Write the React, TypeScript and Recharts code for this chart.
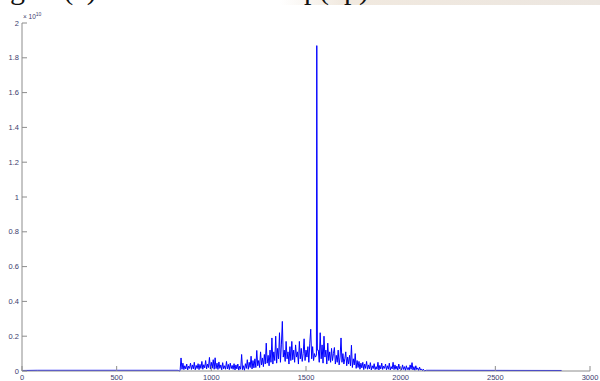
import { Line, LineChart, XAxis, YAxis } from 'recharts';

// spectrum magnitude, units of 1e10
const sampleStart = 830;
const sampleStep = 5;

const noiseRows: number[][] = [
  [0, 0.002, 0.075, 0.01, 0.045, 0.008, 0.03, 0.012, 0.04, 0.006, 0.028, 0.015, 0.045, 0.009, 0.035, 0.012, 0.05, 0.007, 0.032, 0.014],
  [0.042, 0.008, 0.038, 0.015, 0.055, 0.01, 0.036, 0.018, 0.06, 0.012, 0.04, 0.02, 0.078, 0.011, 0.05, 0.016, 0.065, 0.01, 0.076, 0.014],
  [0.045, 0.009, 0.052, 0.015, 0.035, 0.007, 0.048, 0.013, 0.03, 0.01, 0.055, 0.012, 0.038, 0.008, 0.045, 0.014, 0.032, 0.01, 0.042, 0.006],
  [0.035, 0.012, 0.04, 0.005, 0.028, 0.01, 0.095, 0.008, 0.03, 0.004, 0.042, 0.015, 0.065, 0.01, 0.05, 0.02, 0.085, 0.012, 0.06, 0.018],
  [0.07, 0.02, 0.118, 0.03, 0.06, 0.02, 0.11, 0.035, 0.075, 0.025, 0.095, 0.04, 0.16, 0.045, 0.09, 0.03, 0.12, 0.05, 0.19, 0.04],
  [0.11, 0.06, 0.2, 0.045, 0.13, 0.07, 0.22, 0.05, 0.15, 0.285, 0.08, 0.12, 0.055, 0.17, 0.07, 0.11, 0.04, 0.14, 0.06, 0.17],
  [0.065, 0.12, 0.05, 0.15, 0.08, 0.11, 0.04, 0.17, 0.07, 0.13, 0.055, 0.1, 0.185, 0.06, 0.12, 0.08, 0.14, 0.05, 0.16, 0.24],
  [0.07, 0.14, 0.06, 0.1, 0.08, 0.09, 0.12, 0.12, 0.05, 0.22, 0.07, 0.15, 0.045, 0.2, 0.08, 0.12, 0.04, 0.16, 0.06, 0.11],
  [0.05, 0.13, 0.06, 0.1, 0.135, 0.04, 0.09, 0.05, 0.12, 0.035, 0.08, 0.19, 0.05, 0.1, 0.04, 0.07, 0.11, 0.03, 0.08, 0.04],
  [0.09, 0.03, 0.148, 0.02, 0.07, 0.035, 0.1, 0.015, 0.06, 0.02, 0.055, 0.01, 0.045, 0.018, 0.05, 0.008, 0.04, 0.015, 0.055, 0.01],
  [0.035, 0.012, 0.048, 0.006, 0.03, 0.014, 0.042, 0.008, 0.025, 0.01, 0.05, 0.006, 0.032, 0.012, 0.045, 0.009, 0.028, 0.015, 0.04, 0.007],
  [0.03, 0.01, 0.045, 0.006, 0.025, 0.012, 0.05, 0.008, 0.035, 0.01, 0.028, 0.005, 0.04, 0.012, 0.022, 0.006, 0.035, 0.009, 0.025, 0.004],
  [0.03, 0.008, 0.02, 0.005, 0.035, 0.01, 0.048, 0.006, 0.025, 0.004, 0.03, 0.008, 0.018, 0.003, 0.022, 0.005, 0.012, 0.002, 0.01, 0.001],
];

// the narrow carrier spike
const spikeFreq = [1556, 1557];
const spikeLevel = [1.0, 1.87];

const leadFreq = [0, 80, 825];
const leadLevel = [0.003, 0.004, 0.004];
const tailFreq = [2135, 2850];
const tailLevel = [0.004, 0.003];

const xTicks = [0, 500, 1000, 1500, 2000, 2500, 3000];
const yTicks = [0, 0.2, 0.4, 0.6, 0.8, 1, 1.2, 1.4, 1.6, 1.8, 2];

const data = [
  ...leadFreq.map((f, i) => ({ f, v: leadLevel[i] })),
  ...noiseRows.flat().map((v, i) => ({ f: sampleStart + i * sampleStep, v })),
  ...spikeFreq.map((f, i) => ({ f, v: spikeLevel[i] })),
  ...tailFreq.map((f, i) => ({ f, v: tailLevel[i] })),
].sort((a, b) => a.f - b.f);

const axisGrey = '#8c8c8c';
const tickFont = { fontSize: 7.5, fill: '#3c3c6e', fontFamily: 'Liberation Sans' };
const captionStyle = {
  position: 'absolute' as const, top: -26, whiteSpace: 'pre' as const,
  fontFamily: 'Liberation Serif', fontSize: 30, color: '#111', lineHeight: '30px',
};

const App = () => (
  <div style={{ position: 'absolute', left: 0, top: 0, width: 600, height: 381, background: '#fff', overflow: 'hidden' }}>
    <div
      style={{
        position: 'absolute', left: 280, top: 0, width: 320, height: 5,
        background: 'linear-gradient(90deg, rgba(240,232,222,0) 0%, #f1e9df 20%, #ece6e0 100%)',
      }}
    />
    <div style={{ ...captionStyle, left: -15 }}>Figure(a)</div>
    <div style={{ ...captionStyle, left: 304 }}>p(up)</div>
    <div
      style={{
        position: 'absolute', left: 23, top: 11, fontFamily: 'Liberation Sans',
        fontSize: 6.5, color: '#3c3c6e', whiteSpace: 'pre',
      }}
    >
      × 10<sup style={{ fontSize: 5 }}>10</sup>
    </div>
    <LineChart width={600} height={381} data={data} margin={{ top: 23, right: 10, bottom: 0, left: 0 }}>
      <XAxis
        xAxisId="b" type="number" dataKey="f" domain={[0, 3000]} ticks={xTicks} interval={0}
        tickSize={-5} tickMargin={9} height={10} stroke={axisGrey} tick={tickFont}
      />
      <XAxis
        xAxisId="t" orientation="top" type="number" dataKey="f" domain={[0, 3000]} ticks={xTicks}
        interval={0} tickSize={-5} height={0} stroke={axisGrey} tick={false}
      />
      <YAxis
        yAxisId="l" type="number" domain={[0, 2]} ticks={yTicks} interval={0}
        tickSize={-5} tickMargin={8} width={22} stroke={axisGrey} tick={tickFont}
      />
      <YAxis
        yAxisId="r" orientation="right" type="number" domain={[0, 2]} ticks={yTicks} interval={0}
        tickSize={-5} width={0} stroke={axisGrey} tick={false}
      />
      <Line
        xAxisId="b" yAxisId="l" type="linear" dataKey="v" stroke="#0000ff" strokeWidth={1}
        dot={false} isAnimationActive={false}
      />
    </LineChart>
  </div>
);

export default App;
